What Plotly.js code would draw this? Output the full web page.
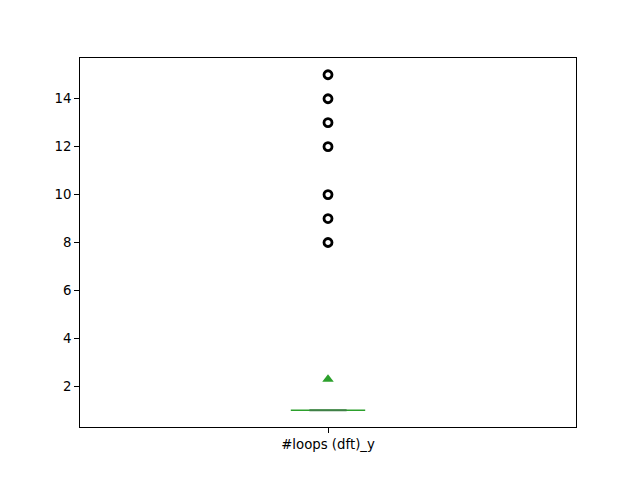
<!DOCTYPE html>
<html>
<head>
<meta charset="utf-8">
<script src="https://cdn.plot.ly/plotly-3.0.1.min.js"></script>
<style>html,body{margin:0;padding:0;background:#fff}#chart{width:640px;height:480px}</style>
</head>
<body>
<div id="chart"></div>
<script>
// Data
const categories = ['#loops (dft)_y'];
const q1 = [1];
const median = [1];
const q3 = [1];
const whiskerLow = [1];
const whiskerHigh = [1];
const meanValue = [2.29];
const outliers = [8, 9, 10, 12, 13, 14, 15];

const pos = 1;
const boxWidth = 0.15;

const traces = [
  {
    type: 'box', x: [pos], q1: q1, median: median, q3: q3,
    lowerfence: whiskerLow, upperfence: whiskerHigh,
    width: boxWidth, boxpoints: false, whiskerwidth: 0.5,
    line: {color: '#2ca02c', width: 1.5}, fillcolor: 'rgba(0,0,0,0)',
    hoverinfo: 'skip', showlegend: false
  },
  {
    type: 'scatter', mode: 'lines',
    x: [pos - boxWidth / 4, pos + boxWidth / 4], y: [whiskerLow[0], whiskerLow[0]],
    line: {color: '#3f7f46', width: 2}, hoverinfo: 'skip', showlegend: false
  },
  {
    type: 'scatter', mode: 'markers',
    x: outliers.map(() => pos), y: outliers,
    marker: {symbol: 'circle-open', size: 8, color: '#000', line: {color: '#000', width: 2.8}},
    showlegend: false
  },
  {
    type: 'scatter', mode: 'markers',
    x: [pos], y: meanValue,
    marker: {symbol: 'triangle-up', size: 10, color: '#2ca02c'},
    showlegend: false
  }
];

const axisBase = {
  showgrid: false, zeroline: false, showline: true, mirror: true,
  linecolor: '#000', linewidth: 1, ticks: 'outside', ticklen: 4.9, tickwidth: 1,
  tickcolor: '#000', tickfont: {family: 'DejaVu Sans', size: 13.3, color: '#000'}
};

const layout = {
  width: 640, height: 480,
  margin: {l: 80, r: 64, t: 58, b: 53},
  paper_bgcolor: '#fff', plot_bgcolor: '#fff',
  showlegend: false,
  xaxis: Object.assign({}, axisBase, {
    range: [0.5, 1.5], tickvals: [pos], ticktext: categories
  }),
  yaxis: Object.assign({}, axisBase, {
    range: [0.3, 15.7], tickvals: [2, 4, 6, 8, 10, 12, 14]
  })
};

Plotly.newPlot('chart', traces, layout, {displayModeBar: false, staticPlot: true});
</script>
</body>
</html>
